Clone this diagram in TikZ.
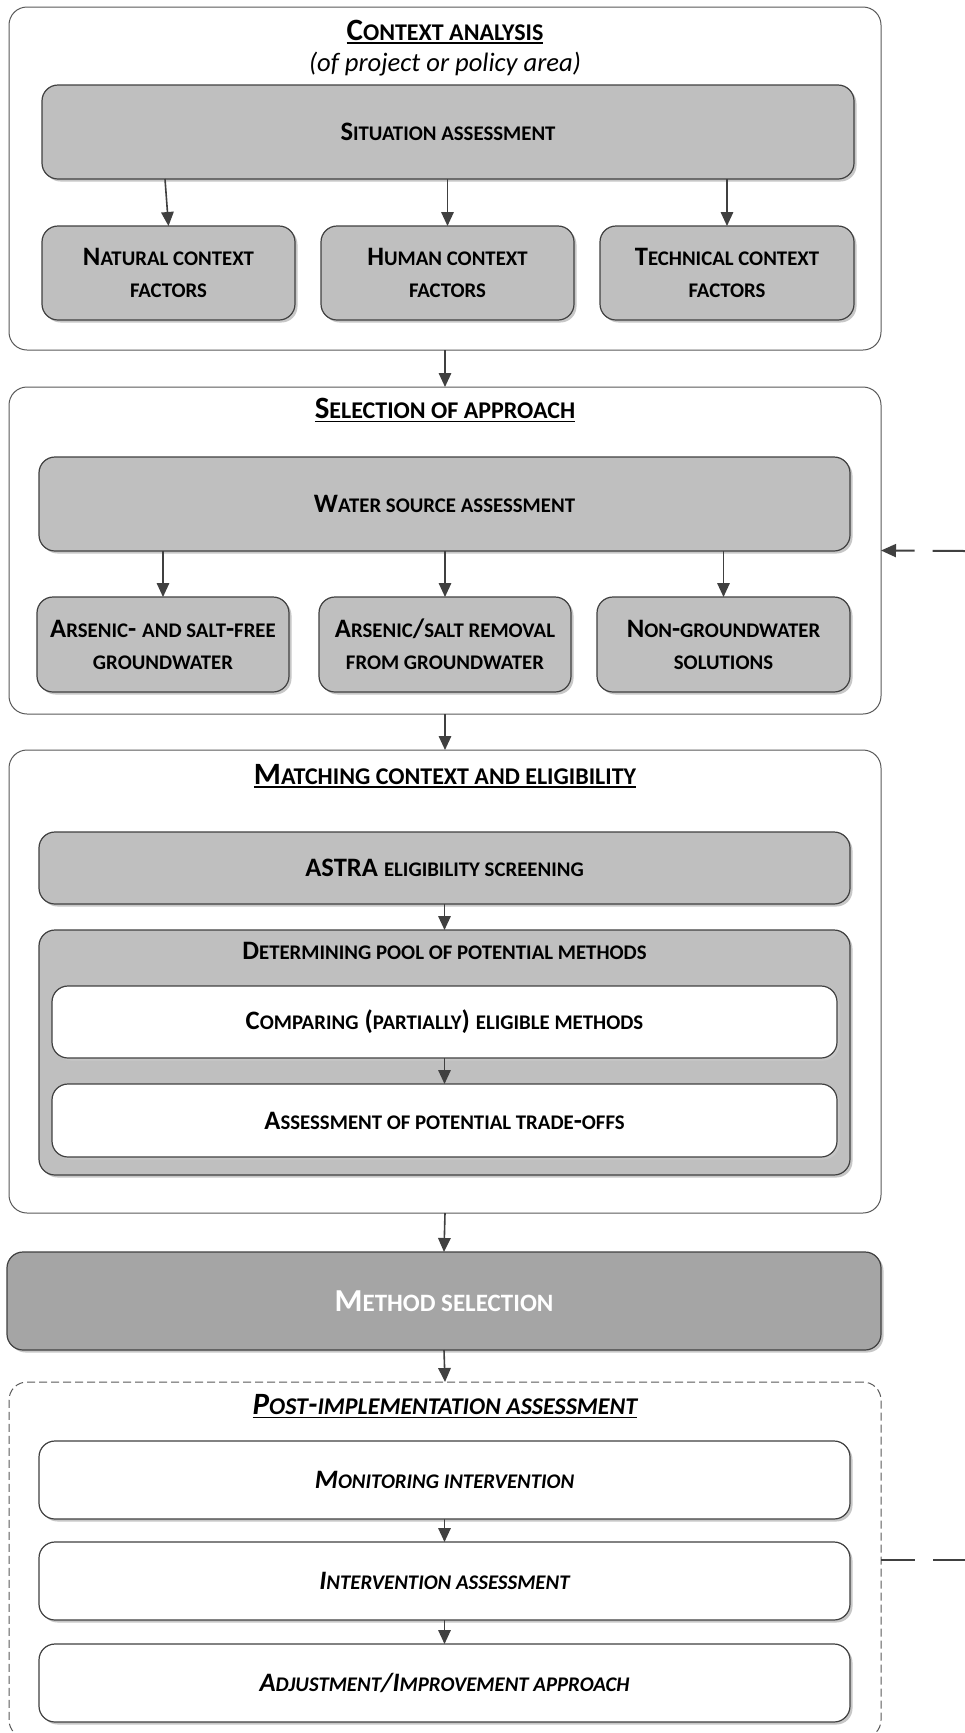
\documentclass[tikz,border=0pt]{standalone}
\usepackage{fontspec}
\setmainfont{Carlito}
\usetikzlibrary{arrows.meta,shadows}
\definecolor{boxgrey}{HTML}{BFBFBF}
\definecolor{msgrey}{HTML}{A5A5A5}
\definecolor{edgec}{HTML}{404040}
\definecolor{contc}{HTML}{595959}
\newcommand\bsz{\fontsize{26.6}{32}\selectfont}
\newcommand\sm[1]{{\fontsize{20.8}{32}\selectfont #1}}
\newcommand\tsz{\fontsize{31}{36}\selectfont}
\newcommand\tsm[1]{{\fontsize{24}{36}\selectfont #1}}
\newcommand\msz{\fontsize{32}{38}\selectfont}
\newcommand\msm[1]{{\fontsize{25}{38}\selectfont #1}}
\tikzset{
  container/.style={draw=contc, line width=1pt, rounded corners=18pt, fill=white, outer sep=0pt, inner sep=0pt},
  dcontainer/.style={container, dash pattern=on 8pt off 4pt},
  greybox/.style={draw=edgec, line width=1.2pt, rounded corners=16pt, fill=boxgrey, align=center,
    font=\bfseries\bsz, outer sep=0pt, inner sep=2pt,
    drop shadow={shadow xshift=2.5pt, shadow yshift=-2.5pt, fill=black!22, opacity=1}},
  whitebox/.style={greybox, fill=white},
  postbox/.style={whitebox, font=\bfseries\itshape\bsz},
  msbox/.style={greybox, fill=msgrey, text=white, font=\bfseries\msz},
  ttl/.style={inner sep=0pt, outer sep=0pt, anchor=base, font=\bfseries\tsz},
  uline/.style={line width=1.8pt, black},
  arr/.style={draw=edgec, line width=1.6pt, -{Triangle[length=14pt,width=12.5pt]}},
  fb/.style={draw=edgec, line width=2pt}
}
\begin{document}
\begin{tikzpicture}[x=1pt,y=-1pt]
\useasboundingbox (0,0) rectangle (965,1733);
% ---------- Context analysis ----------
\node[container, minimum width=872pt, minimum height=343pt] (c1) at (445,178.5) {};
\node[ttl] (t1) at (445,40) {C\tsm{ONTEXT ANALYSIS}};
\draw[uline] ([yshift=-3pt]t1.base west) -- ([yshift=-3pt]t1.base east);
\node[ttl, font=\itshape\bsz] (t1s) at (445,71) {(of project or policy area)};
\node[greybox, minimum width=812pt, minimum height=94pt] (sa) at (448,132) {S\sm{ITUATION ASSESSMENT}};
\node[greybox, minimum width=253pt, minimum height=94pt] (nat) at (168.5,273) {N\sm{ATURAL CONTEXT}\\\sm{FACTORS}};
\node[greybox, minimum width=253pt, minimum height=94pt] (hum) at (447.5,273) {H\sm{UMAN CONTEXT}\\\sm{FACTORS}};
\node[greybox, minimum width=254pt, minimum height=94pt] (tec) at (727,273) {T\sm{ECHNICAL CONTEXT}\\\sm{FACTORS}};
\draw[arr] ([xshift=-3.5pt]sa.south -| nat.north) -- (nat.north);
\draw[arr] (sa.south -| hum.north) -- (hum.north);
\draw[arr] (sa.south -| tec.north) -- (tec.north);
% ---------- Selection of approach ----------
\node[container, minimum width=872pt, minimum height=327pt] (c2) at (445,550.5) {};
\node[ttl] (t2) at (445,418.5) {S\tsm{ELECTION OF APPROACH}};
\draw[uline] ([yshift=-3pt]t2.base west) -- ([yshift=-3pt]t2.base east);
\node[greybox, minimum width=811pt, minimum height=94pt] (ws) at (444.5,504) {W\sm{ATER SOURCE ASSESSMENT}};
\node[greybox, minimum width=252pt, minimum height=95pt] (af) at (163,644.5) {A\sm{RSENIC}- \sm{AND SALT}-\sm{FREE}\\\sm{GROUNDWATER}};
\node[greybox, minimum width=252pt, minimum height=95pt] (ar) at (445,644.5) {A\sm{RSENIC}/\sm{SALT REMOVAL}\\\sm{FROM GROUNDWATER}};
\node[greybox, minimum width=253pt, minimum height=95pt] (ng) at (723.5,644.5) {N\sm{ON}-\sm{GROUNDWATER}\\\sm{SOLUTIONS}};
\draw[arr] (ws.south -| af.north) -- (af.north);
\draw[arr] (ws.south -| ar.north) -- (ar.north);
\draw[arr] (ws.south -| ng.north) -- (ng.north);
\draw[arr] (c1.south) -- (c2.north);
% ---------- Matching context and eligibility ----------
\node[container, minimum width=872pt, minimum height=463pt] (c3) at (445,981.5) {};
\node[ttl] (t3) at (445,784) {M\tsm{ATCHING CONTEXT AND ELIGIBILITY}};
\draw[uline] ([yshift=-3pt]t3.base west) -- ([yshift=-3pt]t3.base east);
\node[greybox, minimum width=811pt, minimum height=72pt] (ast) at (444.5,868) {ASTRA \sm{ELIGIBILITY SCREENING}};
\node[greybox, minimum width=811pt, minimum height=245pt] (pool) at (444.5,1052.5) {};
\node[ttl, font=\bfseries\bsz] (pt) at (444.5,959) {D\sm{ETERMINING POOL OF POTENTIAL METHODS}};
\node[whitebox, minimum width=785pt, minimum height=72pt] (cmp) at (444.5,1022) {C\sm{OMPARING} (\sm{PARTIALLY}) \sm{ELIGIBLE METHODS}};
\node[whitebox, minimum width=785pt, minimum height=73pt] (trd) at (444.5,1120.5) {A\sm{SSESSMENT OF POTENTIAL TRADE}-\sm{OFFS}};
\draw[arr] (ast.south) -- (pool.north);
\draw[arr] (cmp.south) -- (trd.north);
\draw[arr] (c2.south) -- (c3.north);
% ---------- Method selection ----------
\node[msbox, minimum width=874pt, minimum height=98pt] (ms) at (444,1301) {M\msm{ETHOD SELECTION}};
\draw[arr] (c3.south) -- (ms.north);
% ---------- Post-implementation assessment ----------
\node[dcontainer, minimum width=872pt, minimum height=356pt] (c4) at (445,1560) {};
\node[ttl, font=\bfseries\itshape\tsz] (t4) at (445,1414.5) {P\tsm{OST}-\tsm{IMPLEMENTATION ASSESSMENT}};
\draw[uline] ([yshift=-3pt]t4.base west) -- ([yshift=-3pt]t4.base east);
\node[postbox, minimum width=811pt, minimum height=78pt] (mon) at (444.5,1480) {M\sm{ONITORING INTERVENTION}};
\node[postbox, minimum width=811pt, minimum height=78pt] (int) at (444.5,1581) {I\sm{NTERVENTION ASSESSMENT}};
\node[postbox, minimum width=811pt, minimum height=78pt] (adj) at (444.5,1683) {A\sm{DJUSTMENT}/I\sm{MPROVEMENT APPROACH}};
\draw[arr] (ms.south) -- (c4.north);
\draw[arr] (mon.south) -- (int.north);
\draw[arr] (int.south) -- (adj.north);
% ---------- feedback lines ----------
\coordinate (fb1) at (965,551);
\coordinate (fb2) at (965,1560);
\draw[fb, {Triangle[length=15pt,width=13pt]}-, dash pattern=on 19pt off 18pt on 60pt off 10pt] (c2.east) -- (fb1);
\draw[fb, dash pattern=on 34pt off 18pt on 60pt off 10pt] (c4.east) -- (fb2);
\end{tikzpicture}
\end{document}
